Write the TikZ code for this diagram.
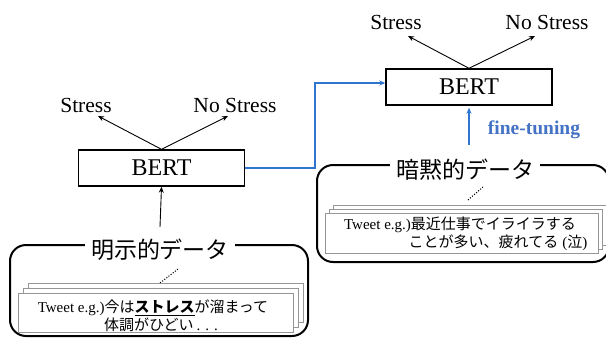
\documentclass[tikz,border=0pt]{standalone}
\usepackage{fontspec}
\setmainfont{Liberation Serif}
\newfontfamily\jp{Noto Sans CJK JP}
\usetikzlibrary{arrows.meta}
\definecolor{lineblue}{RGB}{46,117,208}
\definecolor{textblue}{RGB}{68,114,196}
\definecolor{papergray}{RGB}{150,150,150}
\tikzset{
  bertbox/.style={draw, line width=1.4pt, minimum width=166pt, minimum height=36pt, inner sep=0pt, font=\fontsize{24}{28}\selectfont},
  lbl/.style={inner sep=0pt, font=\fontsize{21.5}{25}\selectfont},
  blackarr/.style={-{Stealth[length=6pt,width=5pt]}, line width=0.9pt},
  bluearr/.style={-{Stealth[length=6pt,width=5pt]}, line width=1.2pt, draw=lineblue},
  databox/.style={draw, line width=2pt, rounded corners=16pt},
  paper/.style={draw=papergray, fill=white, line width=0.8pt},
  datatitle/.style={fill=white, inner xsep=6pt, inner ysep=0pt, font=\jp\fontsize{23}{27}\selectfont},
  tweet/.style={inner sep=0pt, font=\fontsize{15}{18}\selectfont},
  dots/.style={dash pattern=on 1.1pt off 1.6pt, line width=1pt},
  ftlabel/.style={inner sep=0pt, text=textblue, font=\bfseries\fontsize{19.5}{22}\selectfont}
}
\begin{document}
\begin{tikzpicture}[x=1pt,y=-1pt]
\useasboundingbox (0,0) rectangle (606,338);
\clip (0,0) rectangle (606,338);

% ---- left BERT
\node[bertbox] (b1) at (161.5,168) {BERT};
\node[lbl] (s1) at (86,105) {Stress};
\node[lbl] (n1) at (235,105) {No Stress};
\coordinate (s1t) at (98,116);
\coordinate (n1t) at (228,116);
\draw[blackarr] (b1.north) -- (s1t);
\draw[blackarr] (b1.north) -- (n1t);

% ---- right BERT
\node[bertbox] (b2) at (469,87) {BERT};
\node[lbl] (s2) at (396,22) {Stress};
\node[lbl] (n2) at (547,22) {No Stress};
\coordinate (s2t) at (408,36);
\coordinate (n2t) at (535,36);
\draw[blackarr] (b2.north) -- (s2t);
\draw[blackarr] (b2.north) -- (n2t);

% ---- blue connector
\coordinate (bend) at (315,83);
\draw[bluearr] (b1.east) -| (bend) -- (b2.west |- bend);

% ---- fine-tuning
\coordinate (ftstart) at (469,145);
\draw[bluearr] (ftstart) -- ([yshift=-2pt]b2.south);
\node[ftlabel] (ft) at (534,130) {fine-tuning};

% ---- left data box
\draw[databox] (10,245) rectangle (308,336);
\node[datatitle] (t1) at (160,250) {明示的データ};
\coordinate (t1top) at (160,227);
\draw[blackarr] (t1top) -- (b1.south);
\draw[dots] (160,283) -- (178,269);
\draw[paper] (28,283) rectangle (303,322);
\draw[paper] (23,288) rectangle (298,327);
\draw[paper] (18,293) rectangle (293,332);
\node[tweet] (tw1a) at (153,308) {Tweet e.g.){\jp 今は\underline{\bfseries ストレス}が溜まって}};
\node[tweet] (tw1b) at (161,325) {{\jp 体調がひどい}\hspace{3pt}.\hspace{5pt}.\hspace{5pt}.};

% ---- right data box
\draw[databox] (317,165) rectangle (609,262);
\node[datatitle] (t2) at (465,170) {暗黙的データ};
\draw[dots] (468,200) -- (483,187);
\draw[paper] (333,205) rectangle (606,245);
\draw[paper] (329,209) rectangle (602,249);
\draw[paper] (325,213) rectangle (598,253);
\node[tweet] (tw2a) at (460,225) {Tweet e.g.){\jp 最近仕事でイライラする}};
\node[tweet] (tw2b) at (498,243) {{\jp ことが多い、疲れてる}\hspace{4pt}({\jp 泣})};
\end{tikzpicture}
\end{document}
